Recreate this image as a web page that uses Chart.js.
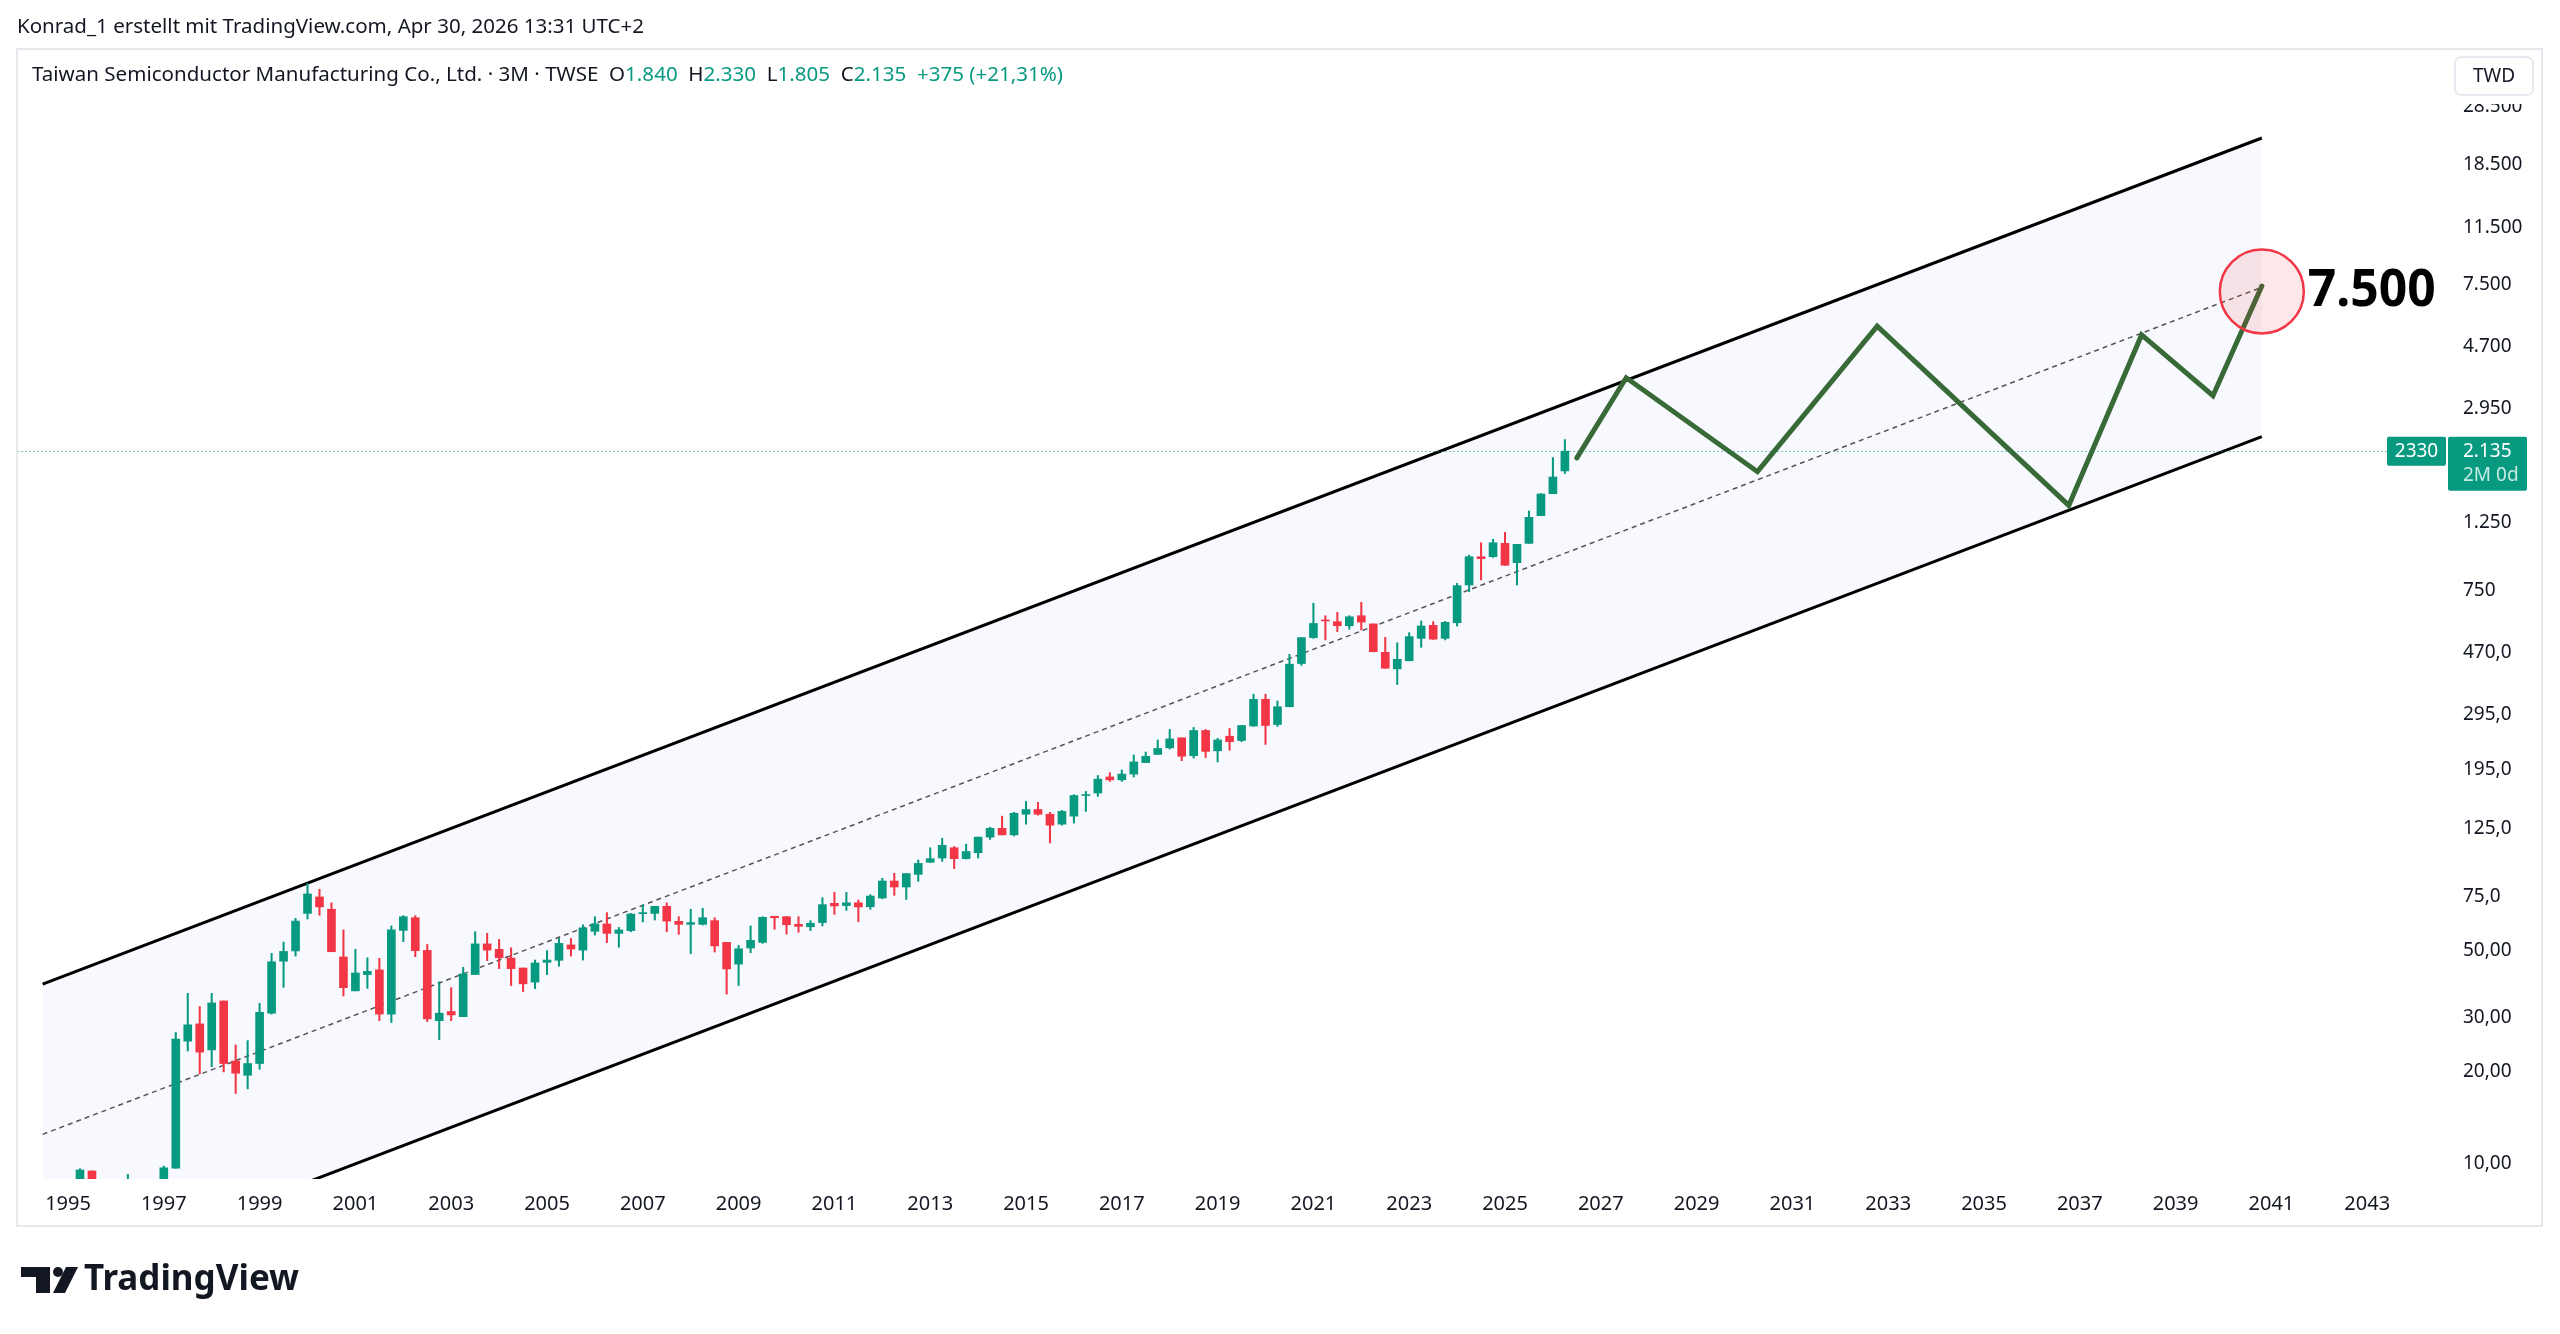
<!DOCTYPE html>
<html>
<head>
<meta charset="utf-8">
<title>TSMC 3M</title>
<script src="https://cdn.jsdelivr.net/npm/chart.js@4.4.1/dist/chart.umd.min.js"></script>
<style>
  html, body { margin: 0; padding: 0; background: #fff; }
  canvas { display: block; }
</style>
</head>
<body>
<canvas id="chart" width="2560" height="1334"></canvas>
<script>
/* ===== DATA ===== */
const quarters = [
  '1994Q3','1994Q4',
  '1995Q1','1995Q2','1995Q3','1995Q4','1996Q1','1996Q2','1996Q3','1996Q4',
  '1997Q1','1997Q2','1997Q3','1997Q4','1998Q1','1998Q2','1998Q3','1998Q4',
  '1999Q1','1999Q2','1999Q3','1999Q4','2000Q1','2000Q2','2000Q3','2000Q4',
  '2001Q1','2001Q2','2001Q3','2001Q4','2002Q1','2002Q2','2002Q3','2002Q4',
  '2003Q1','2003Q2','2003Q3','2003Q4','2004Q1','2004Q2','2004Q3','2004Q4',
  '2005Q1','2005Q2','2005Q3','2005Q4','2006Q1','2006Q2','2006Q3','2006Q4',
  '2007Q1','2007Q2','2007Q3','2007Q4','2008Q1','2008Q2','2008Q3','2008Q4',
  '2009Q1','2009Q2','2009Q3','2009Q4','2010Q1','2010Q2','2010Q3','2010Q4',
  '2011Q1','2011Q2','2011Q3','2011Q4','2012Q1','2012Q2','2012Q3','2012Q4',
  '2013Q1','2013Q2','2013Q3','2013Q4','2014Q1','2014Q2','2014Q3','2014Q4',
  '2015Q1','2015Q2','2015Q3','2015Q4','2016Q1','2016Q2','2016Q3','2016Q4',
  '2017Q1','2017Q2','2017Q3','2017Q4','2018Q1','2018Q2','2018Q3','2018Q4',
  '2019Q1','2019Q2','2019Q3','2019Q4','2020Q1','2020Q2','2020Q3','2020Q4',
  '2021Q1','2021Q2','2021Q3','2021Q4','2022Q1','2022Q2','2022Q3','2022Q4',
  '2023Q1','2023Q2','2023Q3','2023Q4','2024Q1','2024Q2','2024Q3','2024Q4',
  '2025Q1','2025Q2','2025Q3','2025Q4','2026Q1','2026Q2'
];

const opens = [
  7.0, 8.0,
  7.6, 8.2, 9.49, 7.3, 6.2, 7.3, 7.9, 7.4,
  8.6, 9.7, 25.2, 28.7, 23.6, 34.1, 21.7, 19.5,
  21.3, 31.1, 46.0, 49.7, 65.9, 74.6, 68.0, 47.5,
  36.8, 41.6, 43.1, 30.9, 58.0, 63.8, 49.9, 29.4,
  31.5, 30.3, 41.6, 52.4, 50.3, 47.1, 43.7, 39.3,
  45.6, 46.3, 52.0, 50.0, 57.6, 60.9, 56.7, 57.9,
  65.8, 65.9, 69.5, 62.1, 60.7, 60.7, 62.4, 53.0,
  45.0, 50.8, 53.0, 64.5, 64.3, 60.7, 59.6, 61.5,
  71.1, 69.9, 71.4, 69.3, 74.0, 84.1, 80.4, 88.4,
  96.8, 100, 108, 99.5, 104, 117, 125, 119,
  139, 144, 139, 129, 137, 160, 163, 184,
  180, 188, 205, 218, 229, 247, 216, 261,
  224, 250, 242, 270, 330, 273, 312, 432,
  525, 598, 592, 574, 619, 582, 470, 415,
  441, 522, 576, 522, 587, 780, 965, 965,
  1067, 923, 1067, 1314, 1551, 1840
];

const highs = [
  8.5, 8.7,
  8.6, 9.65, 9.49, 7.8, 7.6, 9.25, 8.5, 8.8,
  9.85, 26.9, 36.1, 32.7, 36.1, 34.1, 24.5, 25.3,
  33.5, 48.8, 53.1, 63.5, 82.6, 79.0, 71.4, 58.2,
  50.3, 47.2, 47.0, 60.0, 64.8, 64.8, 52.2, 39.4,
  37.7, 43.9, 57.4, 56.7, 54.2, 50.9, 43.7, 46.4,
  49.8, 54.6, 54.6, 60.5, 64.3, 66.3, 59.3, 65.9,
  70.2, 69.5, 71.4, 64.3, 68.0, 68.5, 63.8, 53.0,
  51.8, 60.0, 64.3, 64.5, 64.3, 64.3, 62.4, 74.2,
  77.2, 77.2, 72.9, 75.9, 85.8, 89.1, 88.9, 98.5,
  108, 116, 109, 111, 117, 126, 137, 141,
  153, 152, 141, 143, 161, 165, 186, 190,
  194, 217, 222, 243, 263, 247, 267, 263,
  246, 265, 271, 343, 343, 326, 463, 525,
  680, 619, 635, 619, 685, 582, 526, 505,
  545, 595, 592, 593, 790, 977, 1072, 1100,
  1159, 1059, 1361, 1551, 2034, 2330
];

const lows = [
  6.5, 7.2,
  7.0, 7.9, 7.0, 5.8, 6.0, 7.0, 6.6, 7.2,
  8.2, 9.68, 23.4, 19.7, 20.8, 20.0, 17.0, 17.6,
  20.4, 30.9, 37.8, 47.8, 63.2, 65.0, 49.4, 35.4,
  36.8, 37.5, 29.4, 29.0, 53.3, 47.6, 29.2, 25.5,
  29.4, 30.3, 41.6, 46.2, 43.5, 38.3, 36.6, 37.4,
  41.6, 44.3, 47.8, 46.4, 56.0, 52.9, 51.1, 57.4,
  61.8, 62.7, 57.4, 56.3, 48.7, 60.4, 49.3, 35.9,
  38.3, 49.0, 52.6, 58.5, 56.4, 57.2, 57.9, 60.0,
  65.4, 67.4, 61.9, 68.0, 73.6, 75.5, 73.2, 83.9,
  96.8, 97.5, 92.3, 99.2, 100, 115, 119, 118,
  129, 138, 112, 128, 130, 142, 159, 178,
  178, 184, 205, 218, 227, 208, 212, 213,
  206, 225, 240, 269, 235, 269, 312, 426,
  522, 516, 549, 559, 556, 472, 417, 369,
  441, 488, 518, 516, 573, 742, 810, 960,
  905, 780, 1067, 1314, 1551, 1805
];

const closes = [
  8.0, 7.6,
  8.2, 9.56, 7.3, 6.2, 7.3, 7.9, 7.4, 8.6,
  9.72, 25.6, 28.5, 23.2, 33.6, 21.3, 19.8, 21.3,
  31.3, 45.8, 49.5, 62.2, 76.3, 69.2, 49.4, 37.7,
  42.1, 42.6, 30.9, 58.2, 64.3, 49.8, 29.8, 31.1,
  30.7, 41.8, 52.4, 50.0, 47.2, 43.5, 38.8, 45.4,
  46.4, 52.6, 50.4, 59.1, 60.9, 56.7, 58.2, 65.6,
  66.3, 69.5, 62.2, 60.7, 61.5, 63.8, 51.6, 43.4,
  50.5, 53.8, 64.0, 63.8, 60.5, 59.8, 61.2, 70.4,
  69.7, 71.4, 69.2, 75.1, 84.1, 80.4, 88.9, 96.0,
  99.5, 110, 99.5, 105, 117, 125, 119, 140,
  144, 139, 128, 142, 160, 161, 181, 180,
  188, 206, 215, 228, 245, 215, 261, 223,
  243, 240, 271, 330, 271, 312, 430, 525,
  584, 595, 574, 614, 590, 472, 417, 446,
  529, 573, 519, 589, 776, 965, 951, 1072,
  905, 1059, 1298, 1547, 1758, 2135
];

const xTickYears = [1995, 1997, 1999, 2001, 2003, 2005, 2007, 2009, 2011, 2013, 2015, 2017, 2019,
  2021, 2023, 2025, 2027, 2029, 2031, 2033, 2035, 2037, 2039, 2041, 2043];
const yTickValues = [28500, 18500, 11500, 7500, 4700, 2950, 1250, 750, 470, 295, 195, 125, 75, 50, 30, 20, 10];
const yTickLabels = ['28.500', '18.500', '11.500', '7.500', '4.700', '2.950', '1.250', '750', '470,0',
  '295,0', '195,0', '125,0', '75,0', '50,00', '30,00', '20,00', '10,00'];

// parallel channel (log scale), anchored at 1994 Q3
const channelYears = [1994.47, 2040.8];
const channelUpper = [38.7, 22530];
const channelMid = [12.5, 7330];
const channelLower = [4.08, 2382];

// projected path
const pathYears = [2026.5, 2027.53, 2030.27, 2032.77, 2036.77, 2038.29, 2039.78, 2040.8];
const pathValues = [2030, 3710, 1830, 5470, 1420, 5120, 3240, 7400];

const targetYear = 2040.8;
const targetValue = 7100;
const targetText = '7.500';

const lastPrice = 2135;
const lastPriceText = '2.135';
const countdownText = '2M 0d';
const symbolText = '2330';

/* ===== COLORS ===== */
const GREEN = '#089981';
const RED = '#F23645';
const TEXT = '#131722';
const PATH = '#386a37';

const qx = q => parseInt(q.slice(0, 4)) + (parseInt(q.slice(5)) - 1) * 0.25;
const candleColors = quarters.map((q, i) => closes[i] >= opens[i] ? GREEN : RED);

Chart.defaults.font.family = "'Noto Sans', 'DejaVu Sans', sans-serif";
Chart.defaults.color = TEXT;

/* ===== HELPERS ===== */
function fitText(ctx, text, x, y, width, font, color) {
  ctx.save();
  ctx.font = font;
  ctx.fillStyle = color;
  ctx.textBaseline = 'middle';
  ctx.textAlign = 'left';
  const w = ctx.measureText(text).width;
  ctx.translate(x, y);
  ctx.scale(width / w, 1);
  ctx.fillText(text, 0, 0);
  ctx.restore();
}

function roundRect(ctx, x, y, w, h, r) {
  ctx.beginPath();
  ctx.moveTo(x + r, y);
  ctx.arcTo(x + w, y, x + w, y + h, r);
  ctx.arcTo(x + w, y + h, x, y + h, r);
  ctx.arcTo(x, y + h, x, y, r);
  ctx.arcTo(x, y, x + w, y, r);
  ctx.closePath();
}

/* ===== PLUGINS ===== */
const background = {
  id: 'background',
  beforeDraw(chart) {
    const ctx = chart.ctx;
    ctx.save();
    ctx.fillStyle = '#fff';
    ctx.fillRect(0, 0, chart.width, chart.height);
    ctx.restore();
  }
};

const overlays = {
  id: 'overlays',
  afterDatasetsDraw(chart) {
    const { ctx, chartArea, scales: { x, y } } = chart;
    // last price line
    const py = Math.round(y.getPixelForValue(lastPrice)) + 0.5;
    ctx.save();
    ctx.strokeStyle = 'rgba(8,153,129,0.55)';
    ctx.lineWidth = 1;
    ctx.setLineDash([2, 2]);
    ctx.beginPath();
    ctx.moveTo(chartArea.left, py);
    ctx.lineTo(chartArea.right, py);
    ctx.stroke();
    ctx.restore();

    // target circle + label
    const cx = x.getPixelForValue(targetYear);
    const cy = y.getPixelForValue(targetValue);
    ctx.save();
    ctx.beginPath();
    ctx.arc(cx, cy, 42, 0, Math.PI * 2);
    ctx.fillStyle = 'rgba(242,54,69,0.12)';
    ctx.fill();
    ctx.lineWidth = 2.5;
    ctx.strokeStyle = RED;
    ctx.stroke();
    ctx.restore();
    fitText(ctx, targetText, cx + 46, cy, 128, "bold 52px 'Noto Sans', sans-serif", '#000');
  }
};

const chrome = {
  id: 'chrome',
  afterDraw(chart) {
    const { ctx, chartArea, scales: { y } } = chart;

    // frame
    ctx.save();
    ctx.strokeStyle = '#e6e8ee';
    ctx.lineWidth = 2;
    ctx.strokeRect(17, 49, 2525, 1177);
    ctx.restore();

    // hide top of the topmost price label, TWD button
    ctx.save();
    ctx.fillStyle = '#fff';
    ctx.fillRect(chartArea.right + 1, 50, 94, 54);
    roundRect(ctx, 2455, 57, 78, 38, 6);
    ctx.fillStyle = '#fff';
    ctx.fill();
    ctx.strokeStyle = '#e0e3eb';
    ctx.lineWidth = 1.5;
    ctx.stroke();
    ctx.fillStyle = TEXT;
    ctx.font = "19px 'Noto Sans', sans-serif";
    ctx.textAlign = 'center';
    ctx.textBaseline = 'middle';
    ctx.fillText('TWD', 2494, 77);
    ctx.restore();

    // top caption
    fitText(ctx, 'Konrad_1 erstellt mit TradingView.com, Apr 30, 2026 13:31 UTC+2', 17, 27, 627,
      "20px 'Noto Sans', sans-serif", TEXT);

    // legend line
    const segs = [
      ['Taiwan Semiconductor Manufacturing Co., Ltd. \u00b7 3M \u00b7 TWSE  ', TEXT],
      ['O', TEXT], ['1.840', GREEN], ['  H', TEXT], ['2.330', GREEN],
      ['  L', TEXT], ['1.805', GREEN], ['  C', TEXT], ['2.135', GREEN],
      ['  +375 (+21,31%)', GREEN]
    ];
    ctx.save();
    ctx.font = "20px 'Noto Sans', sans-serif";
    const total = segs.reduce((s, g) => s + ctx.measureText(g[0]).width, 0);
    const k = 1031 / total;
    ctx.translate(32, 75);
    ctx.scale(k, 1);
    ctx.textBaseline = 'middle';
    let cx = 0;
    segs.forEach(([t, c]) => {
      ctx.fillStyle = c;
      ctx.fillText(t, cx, 0);
      cx += ctx.measureText(t).width;
    });
    ctx.restore();

    // last price boxes
    const py = y.getPixelForValue(lastPrice);
    ctx.save();
    ctx.fillStyle = GREEN;
    roundRect(ctx, 2448, py - 14.5, 79, 54, 2);
    ctx.fill();
    roundRect(ctx, 2387, py - 14.5, 59, 29, 2);
    ctx.fill();
    ctx.font = "19px 'Noto Sans', sans-serif";
    ctx.textBaseline = 'middle';
    ctx.fillStyle = '#fff';
    ctx.fillText(lastPriceText, 2463, py);
    ctx.textAlign = 'center';
    ctx.fillText(symbolText, 2416.5, py);
    ctx.textAlign = 'left';
    ctx.fillStyle = '#c6ebe3';
    ctx.fillText(countdownText, 2463, py + 24);
    ctx.restore();

    // TradingView logo
    ctx.save();
    ctx.fillStyle = TEXT;
    ctx.fillRect(21, 1267, 29, 10);
    ctx.fillRect(36, 1267, 14, 26);
    ctx.beginPath();
    ctx.arc(58, 1272, 5, 0, Math.PI * 2);
    ctx.fill();
    ctx.beginPath();
    ctx.moveTo(66, 1267);
    ctx.lineTo(78, 1267);
    ctx.lineTo(65, 1293);
    ctx.lineTo(53, 1293);
    ctx.closePath();
    ctx.fill();
    ctx.restore();
    fitText(ctx, 'TradingView', 84, 1280, 215, "bold 36px 'Noto Sans', sans-serif", TEXT);
  }
};

/* ===== CHART ===== */
new Chart(document.getElementById('chart'), {
  type: 'bar',
  data: {
    datasets: [
      {
        label: 'Body',
        data: quarters.map((q, i) => ({ x: qx(q), y: [opens[i], closes[i]] })),
        backgroundColor: candleColors,
        barThickness: 8,
        minBarLength: 1,
        grouped: false,
        order: 1
      },
      {
        label: 'Wick',
        data: quarters.map((q, i) => ({ x: qx(q), y: [lows[i], highs[i]] })),
        backgroundColor: candleColors,
        barThickness: 1.4,
        grouped: false,
        order: 2
      },
      {
        type: 'line',
        label: 'Mid',
        data: channelYears.map((t, i) => ({ x: t, y: channelMid[i] })),
        borderColor: '#555',
        borderWidth: 1.5,
        borderDash: [5, 4],
        pointRadius: 0,
        fill: false,
        order: 3
      },
      {
        type: 'line',
        label: 'Upper',
        data: channelYears.map((t, i) => ({ x: t, y: channelUpper[i] })),
        borderColor: '#000',
        borderWidth: 3,
        pointRadius: 0,
        fill: '+1',
        backgroundColor: '#f8f9fe',
        order: 6
      },
      {
        type: 'line',
        label: 'Lower',
        data: channelYears.map((t, i) => ({ x: t, y: channelLower[i] })),
        borderColor: '#000',
        borderWidth: 3,
        pointRadius: 0,
        fill: false,
        order: 5
      },
      {
        type: 'line',
        label: 'Path',
        data: pathYears.map((t, i) => ({ x: t, y: pathValues[i] })),
        borderColor: PATH,
        borderWidth: 5,
        borderCapStyle: 'round',
        pointRadius: 0,
        fill: false,
        order: 0
      }
    ]
  },
  options: {
    responsive: false,
    animation: false,
    devicePixelRatio: 1,
    layout: { padding: { left: 17, top: 49, right: 18, bottom: 108 } },
    scales: {
      x: {
        type: 'linear',
        min: 1993.935,
        max: 2044.645,
        bounds: 'data',
        offset: false,
        grid: { display: false, drawTicks: false },
        border: { display: false },
        afterBuildTicks: s => { s.ticks = xTickYears.map(v => ({ value: v })); },
        afterFit: s => { s.height = 47; },
        ticks: {
          autoSkip: false,
          maxRotation: 0,
          padding: 13,
          color: TEXT,
          font: { size: 20 },
          callback: v => String(v)
        }
      },
      y: {
        type: 'logarithmic',
        position: 'right',
        min: 8.933,
        max: 44020,
        bounds: 'data',
        grid: { display: false, drawTicks: false },
        border: { display: false },
        afterBuildTicks: s => { s.ticks = yTickValues.map(v => ({ value: v })); },
        afterFit: s => { s.width = 96; },
        ticks: {
          autoSkip: false,
          padding: 17,
          color: TEXT,
          font: { size: 19 },
          callback: (v, i) => yTickLabels[i]
        }
      }
    },
    plugins: {
      legend: { display: false },
      tooltip: { enabled: false }
    }
  },
  plugins: [background, overlays, chrome]
});
</script>
</body>
</html>
